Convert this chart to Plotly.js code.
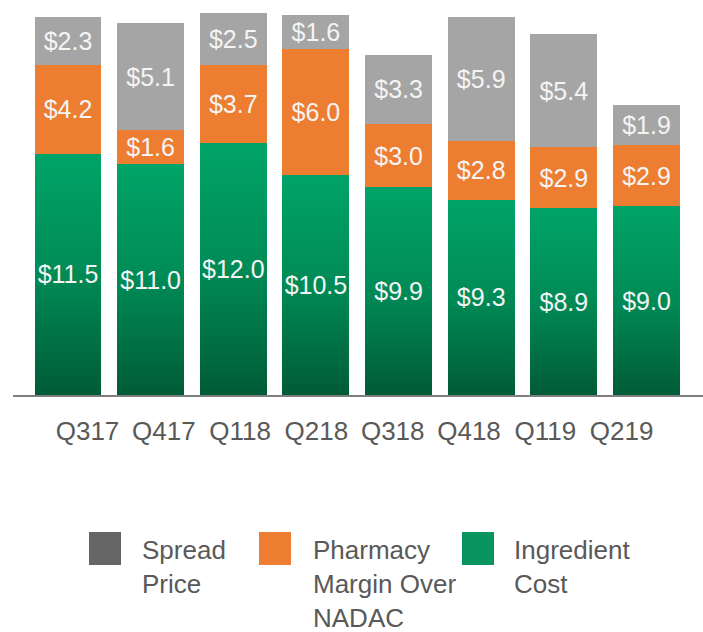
<!DOCTYPE html>
<html><head><meta charset="utf-8">
<script src="https://cdn.plot.ly/plotly-3.0.1.min.js"></script>
<style>html,body{margin:0;padding:0;background:#fff;} #chart{width:703px;height:632px;}</style>
</head><body><div id="chart"></div>
<script>
// ---- data ----
const quarters = ['Q317','Q417','Q118','Q218','Q318','Q418','Q119','Q219'];
const ingredientCost = [11.5, 11.0, 12.0, 10.5, 9.9, 9.3, 8.9, 9.0];
const pharmacyMargin = [4.2, 1.6, 3.7, 6.0, 3.0, 2.8, 2.9, 2.9];
const spreadPrice = [2.3, 5.1, 2.5, 1.6, 3.3, 5.9, 5.4, 1.9];
const legendLabels = ['Spread<br>Price', 'Pharmacy<br>Margin Over<br>NADAC', 'Ingredient<br>Cost'];

// ---- styles ----
const C_GREY = '#a5a5a5', C_ORANGE = '#ed7d31', C_GREEN = '#009a62';
const LEG_COLORS = ['#666666', '#ed7d31', '#0a9460'];
const SANS = '"Liberation Sans", Arial, sans-serif';

const W = 703, H = 632, ML = 13, MR = 0, MT = 10, MB = 237;
const plotW = W - ML - MR, plotH = H - MT - MB;
const PXU = 21; // pixels per dollar unit
const px = x => (x - ML) / plotW;
const py = y => (H - MB - y) / plotH;

function barTrace(vals, color, name) {
  return {
    type: 'bar', x: quarters, y: vals, name: name,
    marker: {color: color, line: {width: 0}},
    text: vals.map(v => '$' + v.toFixed(1)),
    textposition: 'inside', insidetextanchor: 'middle',
    textangle: 0, constraintext: 'none',
    textfont: {family: SANS, size: 25, color: '#f4f4f4'},
    hoverinfo: 'skip', showlegend: false
  };
}

const data = [
  barTrace(ingredientCost, C_GREEN, 'Ingredient Cost'),
  barTrace(pharmacyMargin, C_ORANGE, 'Pharmacy Margin Over NADAC'),
  barTrace(spreadPrice, C_GREY, 'Spread Price'),
  {type: 'scatter', mode: 'markers', x: quarters, y: quarters.map(() => null),
   xaxis: 'x2', yaxis: 'y', hoverinfo: 'skip', showlegend: false}
];

// category label spacing (labels are set tighter than bars)
const labSpacing = 76.3, labFirst = 87.5;
const r2lo = -(labFirst - ML) / labSpacing;
const r2 = [r2lo, r2lo + plotW / labSpacing];
const barSpacing = 82.64, barFirst = 68;
const r1lo = -(barFirst - ML) / barSpacing;
const r1 = [r1lo, r1lo + plotW / barSpacing];

const legX = [[89, 121, 140], [259, 291, 311], [462, 494, 512]];
const shapes = legX.map((p, i) => ({
  type: 'rect', xref: 'paper', yref: 'paper',
  x0: px(p[0]), x1: px(p[1]), y0: py(565), y1: py(532),
  fillcolor: LEG_COLORS[i], line: {width: 0}
}));
const annotations = legX.map((p, i) => ({
  xref: 'paper', yref: 'paper', x: px(p[2]), y: py(533),
  xanchor: 'left', yanchor: 'top', align: 'left', showarrow: false,
  text: legendLabels[i], font: {family: SANS, size: 26, color: '#595959'}
}));

const layout = {
  width: W, height: H,
  margin: {l: ML, r: MR, t: MT, b: MB, pad: 0},
  paper_bgcolor: '#ffffff', plot_bgcolor: '#ffffff',
  barmode: 'stack', bargap: 0.19,
  showlegend: false,
  xaxis: {type: 'category', range: r1, showticklabels: false, ticks: '',
          showgrid: false, zeroline: false, showline: true,
          linecolor: '#7f7f7f', linewidth: 2, fixedrange: true},
  xaxis2: {type: 'category', overlaying: 'x', anchor: 'y', side: 'bottom',
           range: r2, showgrid: false, zeroline: false, showline: false, ticks: '',
           ticklabelstandoff: 18,
           tickfont: {family: SANS, size: 26, color: '#595959'}, fixedrange: true},
  yaxis: {range: [0, plotH / PXU], visible: false, showgrid: false, zeroline: false, fixedrange: true},
  shapes: shapes,
  annotations: annotations
};

Plotly.newPlot('chart', data, layout, {staticPlot: true, displayModeBar: false}).then(gd => {
  const ns = 'http://www.w3.org/2000/svg';
  const svg = gd.querySelector('svg.main-svg');
  let defs = svg.querySelector('defs');
  if (!defs) { defs = document.createElementNS(ns, 'defs'); svg.insertBefore(defs, svg.firstChild); }
  const lg = document.createElementNS(ns, 'linearGradient');
  lg.setAttribute('id', 'greenGrad');
  lg.setAttribute('x1', '0'); lg.setAttribute('y1', '0');
  lg.setAttribute('x2', '0'); lg.setAttribute('y2', '1');
  [['0', '#00a468'], ['0.5', '#008b56'], ['1', '#005b37']].forEach(s => {
    const st = document.createElementNS(ns, 'stop');
    st.setAttribute('offset', s[0]); st.setAttribute('stop-color', s[1]);
    lg.appendChild(st);
  });
  defs.appendChild(lg);
  const traces = gd.querySelectorAll('.barlayer .trace');
  if (traces.length) traces[0].querySelectorAll('path').forEach(p => { p.style.fill = 'url(#greenGrad)'; });
});
</script>
</body></html>
